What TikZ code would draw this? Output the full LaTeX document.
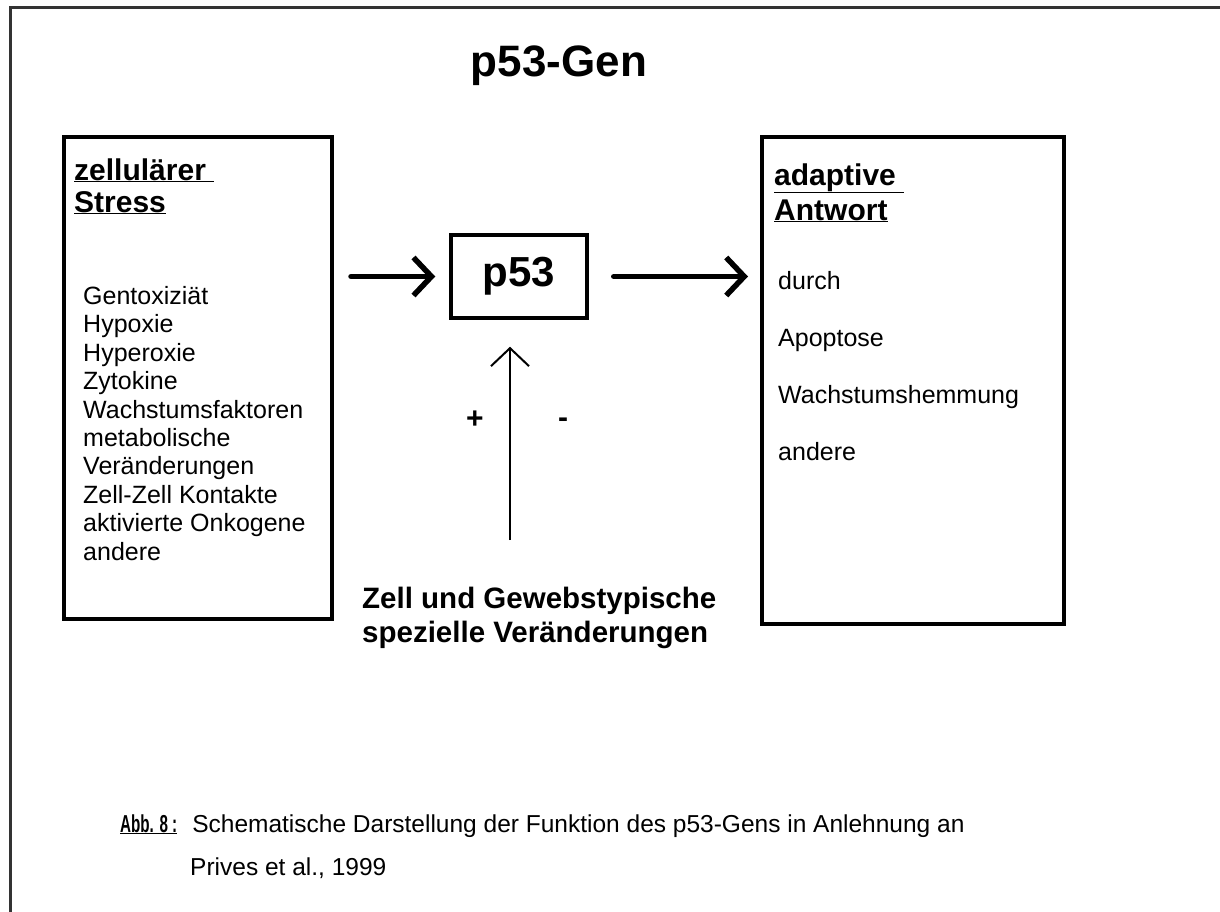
\documentclass[tikz,border=0pt]{standalone}
\usepackage{fontspec}
\setmainfont{Liberation Sans}
\newfontfamily\narrowfont[FakeStretch=0.62]{Liberation Sans}
\usetikzlibrary{arrows.meta, positioning}

\begin{document}
\begin{tikzpicture}[x=1pt, y=-1pt,
frame/.style={draw=black!80, line width=3pt},
box/.style={draw,
rectangle,
line width=4pt,
anchor=north west,
inner sep=0pt},
heading/.style={anchor=base west, inner sep=0pt, align=left},
itemlist/.style={anchor=base west, inner sep=0pt, align=left},
sign/.style={anchor=base, inner sep=0pt, font=\fontsize{30}{30}\selectfont\bfseries},
bigarrow/.style={-{Straight Barb[length=18pt, width=38pt]}, line width=5.5pt, line cap=round},
thinarrow/.style={-{Straight Barb[length=18pt, width=38pt]}, line width=2pt} ]

\useasboundingbox (0,0) rectangle (1220,912);
\draw[frame] (1220,8) -- (10,8) -- (10,912);

\node[anchor=base, font=\fontsize{44}{44}\selectfont\bfseries] (title) at (559,77) {p53-Gen};

% linker Kasten
\node[box, minimum width=268pt, minimum height=482pt] (stress) at (62,135) {};
\node[heading, font=\fontsize{30}{32}\selectfont\bfseries] (stresshead) at (74,212) {\underline{zellulärer\ }\\\underline{Stress}};
\node[itemlist, font=\fontsize{25}{28.4}\selectfont] (stresslist) at (83,560) {Gentoxiziät\\Hypoxie\\Hyperoxie\\Zytokine\\Wachstumsfaktoren\\metabolische\\Veränderungen\\Zell-Zell Kontakte\\aktivierte Onkogene\\andere};

% p53
\node[draw, line width=3.5pt, minimum width=136pt, minimum height=83pt, font=\fontsize{42}{42}\selectfont\bfseries] (p53) at (519,276.5) {p53};

% rechter Kasten
\node[box, minimum width=302pt, minimum height=487pt] (antwort) at (760,135) {};
\node[heading, font=\fontsize{30}{35}\selectfont\bfseries] (antworthead) at (774,220) {\underline{adaptive\ }\\\underline{Antwort}};
\node[itemlist, font=\fontsize{25}{56.7}\selectfont] (antwortlist) at (778,460) {durch\\Apoptose\\Wachstumshemmung\\andere};

% Einfluss von unten
\coordinate (lowend) at (510,540);
\node[sign] (plus) at (475,428) {+};
\node[sign] (minus) at (563,427) {-};
\node[itemlist, font=\fontsize{29.5}{34}\selectfont\bfseries] (gewebe) at (362,642) {Zell und Gewebstypische\\spezielle Veränderungen};

\draw[bigarrow, shorten <=17pt, shorten >=14pt] (stress.east |- p53.west) -- (p53.west);
\draw[bigarrow, shorten <=25pt, shorten >=12pt] (p53.east) -- (p53.east -| antwort.west);
\draw[thinarrow, shorten >=27pt] (lowend) -- (lowend |- p53.south);

% Bildunterschrift
\node[anchor=base west, inner sep=0pt, font=\fontsize{24.5}{24.5}\selectfont] (caption) at (120,832) {{\narrowfont\bfseries\underline{Abb. 8 :}}\hspace{15pt}Schematische Darstellung der Funktion des p53-Gens in Anlehnung an};
\node[anchor=base west, inner sep=0pt, font=\fontsize{24.5}{24.5}\selectfont] (captionb) at (190,875) {Prives et al., 1999};

\end{tikzpicture}
\end{document}
